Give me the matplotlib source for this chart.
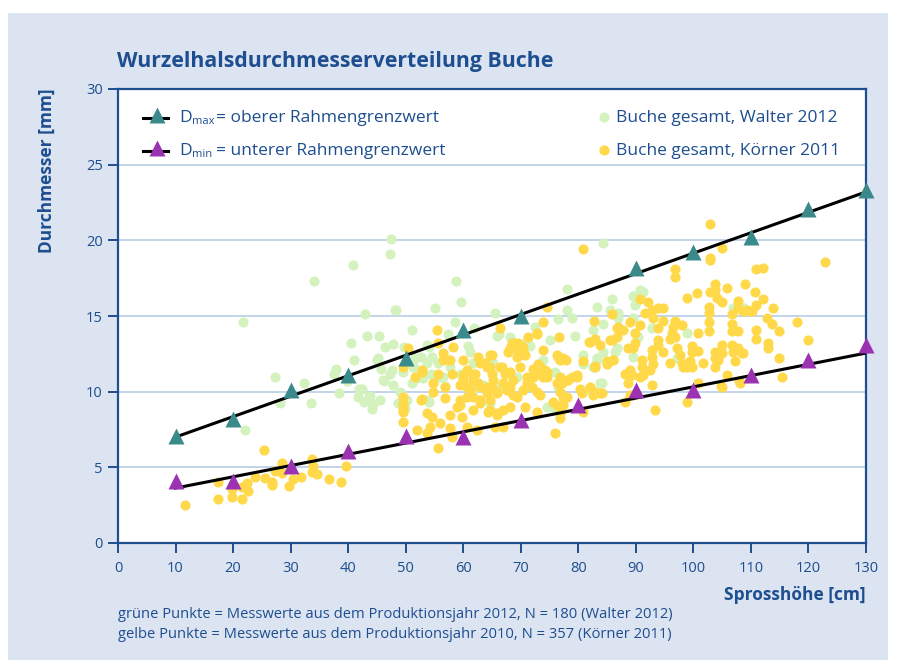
import matplotlib
matplotlib.use("Agg")
import matplotlib.pyplot as plt
from matplotlib.lines import Line2D
from matplotlib.patches import Rectangle
import numpy as np

# ---------------- data ----------------
title = "Wurzelhalsdurchmesserverteilung Buche"
xlabel = "Sprosshöhe [cm]"
ylabel = "Durchmesser [mm]"
x_ticks = list(range(0, 131, 10))
y_ticks = list(range(0, 31, 5))

dmax_x = [10, 20, 30, 40, 50, 60, 70, 90, 100, 110, 120, 130]
dmax_y = [7.1, 8.2, 10.1, 11.1, 12.2, 14.1, 15.0, 18.2, 19.2, 20.2, 22.1, 23.3]
dmin_x = [10, 20, 30, 40, 50, 60, 70, 80, 90, 100, 110, 120, 130]
dmin_y = [4.1, 4.1, 5.1, 6.1, 7.1, 7.0, 8.1, 9.1, 10.1, 10.1, 11.1, 12.1, 13.1]
dmax_line_x = [10, 130]
dmax_line_y = [7.0, 23.2]
dmin_line_x = [10, 130]
dmin_line_y = [3.63, 12.55]

walter_points = [
    (21.7, 14.6), (22.0, 7.5), (27.3, 11.0), (28.2, 9.25), (32.3, 10.6), (33.5, 9.25), (34.1, 17.3), (40.8, 18.4),
    (37.9, 11.5), (37.5, 11.2), (39.8, 10.7), (38.4, 9.9), (40.5, 13.2), (41.0, 12.1), (41.9, 10.2), (41.7, 9.65),
    (42.9, 15.1), (43.3, 13.7), (43.6, 9.65), (45.4, 13.7), (46.4, 12.95), (47.8, 13.15), (48.3, 15.4), (51.1, 14.1),
    (47.4, 20.1), (47.3, 19.1), (45.2, 12.2), (45.7, 11.5), (47.3, 11.2), (46.2, 10.7), (47.8, 10.45), (43.8, 9.7),
    (45.5, 9.45), (44.3, 9.2), (48.7, 9.25), (42.2, 10.2), (42.7, 9.3), (44.1, 8.85), (49.9, 8.9),
    (55.1, 15.5), (58.7, 17.3), (59.6, 15.9), (58.6, 14.6), (61.9, 14.2), (57.4, 13.8), (54.1, 12.95), (54.6, 12.3),
    (60.8, 13.0), (61.2, 12.6), (61.7, 11.9), (65.5, 15.2), (66.2, 13.8), (68.1, 13.6), (70.9, 13.0),
    (78.0, 16.8), (78.0, 15.4), (78.9, 14.9), (76.5, 14.8), (83.2, 15.6), (84.3, 19.8), (84.3, 14.5), (75.1, 13.4),
    (79.4, 13.7), (80.8, 12.4), (82.6, 14.1), (82.6, 11.6), (83.2, 12.2), (83.8, 10.6),
    (51.6, 12.2), (51.4, 11.6), (51.1, 10.6), (49.7, 12.95), (52.7, 12.3), (53.7, 11.9), (54.4, 11.2), (56.0, 11.0),
    (57.7, 11.6), (59.4, 11.2), (60.0, 11.0), (56.8, 10.4), (61.7, 10.2), (63.4, 10.45), (65.2, 11.9), (67.6, 10.1),
    (50.2, 9.45), (54.1, 9.3), (52.0, 10.9), (49.5, 11.3), (74.6, 9.0), (76.3, 8.9),
    (85.9, 16.1), (90.7, 16.7), (89.8, 15.7), (85.5, 15.4), (89.5, 16.3), (91.2, 16.6), (106.9, 15.5), (108.8, 15.5),
    (98.9, 13.9), (86.9, 14.9), (89.5, 14.9), (90.2, 13.7), (92.8, 14.2), (84.3, 12.6), (86.4, 12.6), (89.5, 12.3),
    (84.1, 10.6), (97.1, 12.2), (86.9, 15.2), (90.4, 13.6), (86.7, 12.9),
    (72.5, 14.3), (65.9, 13.7), (71.1, 13.4), (71.6, 13.0), (64.7, 12.1), (73.9, 12.1), (83.2, 12.1), (75.9, 11.3),
    (80.8, 11.8), (82.0, 10.1), (76.5, 10.3), (71.6, 10.4), (75.4, 9.0), (69.3, 11.0), (66.0, 10.3), (64.7, 9.25),
    (48.1, 15.4), (53.7, 13.1), (55.6, 11.9), (51.3, 11.6), (53.0, 10.9), (56.5, 11.0), (61.7, 11.1), (49.0, 10.0),
    (53.9, 9.45), (52.8, 11.2), (45.0, 12.1), (47.6, 11.4), (46.1, 10.8), (42.4, 10.2),
]

koerner_points = [
    (11.6, 2.5), (17.4, 4.0), (17.4, 2.9), (19.8, 3.55), (19.8, 3.05), (21.5, 2.9), (21.5, 3.7), (22.4, 3.95),
    (22.6, 3.45), (23.8, 4.35), (25.4, 6.15), (25.6, 4.3), (26.8, 4.05), (26.8, 3.8), (27.3, 4.75), (28.5, 4.6),
    (28.5, 5.3), (29.7, 3.75), (30.4, 4.2), (31.8, 4.35), (33.7, 5.55), (33.9, 5.1), (33.7, 4.7), (34.6, 4.55),
    (36.7, 4.2), (38.8, 4.0), (39.6, 5.1),
    (49.5, 8.0), (49.5, 8.65), (49.5, 9.1), (49.5, 9.65), (49.5, 8.8), (49.5, 9.25), (49.5, 11.6), (50.4, 12.9),
    (55.6, 13.2), (56.5, 12.55), (58.2, 12.95), (56.5, 12.1), (57.7, 12.1), (60.0, 12.1), (52.8, 11.4), (51.6, 11.0),
    (55.6, 11.2), (54.7, 10.6), (56.8, 10.3), (54.7, 10.0), (52.8, 9.5), (56.8, 9.6), (53.7, 8.6), (54.6, 8.35),
    (57.7, 8.45), (59.8, 8.35), (52.0, 7.5), (54.2, 7.65), (56.0, 7.9), (57.7, 7.6), (53.7, 7.25), (55.6, 6.3),
    (58.0, 7.0), (59.4, 9.45), (58.9, 9.0), (60.7, 10.3), (60.0, 10.8), (61.2, 10.1), (60.7, 11.4), (62.0, 11.2),
    (62.6, 12.3), (62.9, 11.9), (63.8, 11.9), (64.7, 11.6), (61.7, 10.8), (62.9, 10.3), (64.1, 9.9), (65.2, 10.2),
    (61.7, 9.65), (62.9, 9.25), (64.7, 8.8), (65.9, 8.6), (61.7, 8.8), (60.7, 7.65), (62.4, 7.45), (55.4, 14.1),
    (57.5, 12.1), (58.0, 11.2), (59.4, 10.45), (60.0, 11.1), (61.7, 11.2), (64.7, 12.4), (64.1, 11.6), (65.0, 11.2),
    (66.4, 11.6), (68.1, 11.3), (62.6, 10.6), (64.1, 10.3), (65.9, 9.9), (67.6, 10.1), (60.7, 9.65), (62.9, 9.45),
    (64.7, 9.45), (59.4, 9.1), (64.3, 8.65), (68.1, 9.0), (69.3, 9.65), (71.1, 10.6), (72.1, 11.0), (74.6, 11.0),
    (76.3, 10.6), (76.8, 10.0), (78.0, 10.8), (79.8, 11.0), (82.0, 10.3), (83.8, 9.9), (82.6, 9.8), (75.6, 9.3),
    (77.3, 9.1), (76.8, 8.6), (52.7, 9.45),
    (74.6, 15.6), (73.9, 14.6), (82.7, 14.7), (85.9, 15.1), (66.4, 14.2), (72.8, 13.9), (71.3, 13.6), (76.6, 13.6),
    (82.0, 13.3), (83.8, 13.1), (85.5, 13.4), (68.5, 13.2), (69.5, 13.2), (67.8, 12.6), (69.0, 12.9), (70.4, 12.9),
    (70.7, 12.4), (73.9, 12.75), (69.3, 12.3), (76.3, 12.4), (76.8, 12.1), (77.9, 12.1), (80.8, 12.0), (82.9, 11.7),
    (85.0, 12.0), (86.0, 12.1), (65.0, 12.4), (66.7, 11.6), (67.3, 11.2), (69.9, 11.6), (72.1, 11.5), (73.3, 11.6),
    (74.2, 11.4), (72.8, 11.2), (73.9, 11.0), (71.1, 11.0), (68.6, 10.8), (66.9, 10.6), (65.2, 10.8), (65.9, 10.0),
    (68.1, 10.3), (68.6, 9.8), (70.4, 10.1), (71.9, 10.3), (72.8, 10.0), (73.3, 9.8), (76.8, 11.0), (77.2, 10.6),
    (78.2, 10.8), (78.9, 11.0), (79.8, 11.1), (80.3, 10.2), (82.9, 10.0), (84.1, 9.9), (77.3, 9.65), (76.3, 9.1),
    (76.8, 8.25), (75.9, 7.3), (72.8, 8.65), (70.7, 9.0), (66.9, 8.8), (65.9, 8.45), (65.5, 7.65), (66.9, 7.65),
    (80.8, 8.65), (80.6, 9.9), (78.0, 9.65),
    (80.8, 19.4), (72.8, 13.8), (68.8, 13.2), (70.2, 13.0), (68.1, 12.9), (70.4, 12.55), (73.0, 11.8), (73.7, 11.4),
    (74.6, 11.3), (76.5, 12.3), (77.3, 12.2), (82.9, 11.6), (81.9, 13.3), (82.9, 13.5), (86.9, 14.3), (86.7, 13.6),
    (52.8, 11.3),
    (96.8, 18.1), (96.8, 17.6), (102.9, 18.7), (98.9, 16.2), (100.6, 16.5), (102.9, 16.6), (103.8, 17.1), (103.8, 16.7),
    (105.8, 16.85), (109.0, 17.1), (110.7, 16.6), (104.1, 16.2), (105.0, 15.9), (102.7, 15.6), (107.7, 16.0), (107.7, 15.5),
    (110.9, 15.7), (102.7, 15.2), (102.7, 14.6), (102.7, 14.0), (106.7, 15.1), (106.7, 14.5), (106.7, 14.0), (107.7, 14.0),
    (109.3, 15.4), (110.2, 15.3), (110.9, 14.1), (110.9, 13.5), (90.7, 16.1), (92.1, 15.9), (91.6, 15.2), (92.8, 15.4),
    (93.8, 15.5), (94.7, 15.5), (93.0, 14.9), (94.7, 14.7), (96.8, 14.7), (98.0, 14.4), (96.5, 14.3), (89.0, 14.6),
    (90.7, 14.4), (86.7, 14.2), (87.8, 14.1), (89.8, 13.9), (93.8, 14.2), (96.3, 13.9), (96.8, 13.6), (95.9, 13.5),
    (93.8, 13.4), (93.8, 13.1), (100.8, 13.9), (97.1, 12.9), (94.7, 12.6), (92.8, 12.75), (89.8, 13.2), (89.5, 12.9),
    (88.6, 12.9), (85.9, 13.4), (99.8, 13.0), (99.8, 12.6), (100.8, 12.7), (97.7, 12.4), (95.9, 11.9), (98.0, 11.9),
    (99.4, 12.0), (99.8, 11.6), (101.7, 11.9), (103.8, 12.6), (103.8, 12.2), (103.8, 11.6), (105.0, 13.1), (105.0, 12.55),
    (104.3, 12.1), (106.7, 13.1), (106.9, 12.6), (107.7, 12.9), (108.4, 12.55), (107.2, 12.0), (105.8, 11.1), (92.8, 12.3),
    (91.1, 12.1), (93.0, 11.8), (91.1, 11.6), (92.5, 11.4), (91.2, 11.1), (90.7, 11.0), (89.0, 11.4), (88.1, 11.2),
    (89.3, 11.1), (88.6, 10.6), (86.0, 12.1), (98.9, 11.6), (98.2, 11.6), (92.8, 10.45), (100.8, 10.6), (98.9, 9.3),
    (93.3, 8.8), (105.0, 10.3), (108.1, 10.6), (88.1, 9.3), (89.0, 9.8), (89.5, 9.8),
    (122.9, 18.6), (110.9, 18.1), (112.1, 18.2), (112.1, 16.1), (113.8, 15.5), (109.8, 15.3), (108.6, 15.3), (112.8, 14.9),
    (113.7, 14.5), (114.9, 14.0), (118.0, 14.6), (113.0, 13.2), (113.0, 12.9), (119.9, 13.4), (108.6, 12.55), (114.9, 12.2),
    (115.4, 11.0), (102.9, 21.1), (105.0, 19.5), (102.9, 18.8), (107.9, 10.7), (104.8, 10.4), (85.0, 11.8),
]

legend_dmax = ("max", "= oberer Rahmengrenzwert")
legend_dmin = ("min", "= unterer Rahmengrenzwert")
legend_walter = "Buche gesamt, Walter 2012"
legend_koerner = "Buche gesamt, Körner 2011"
footnotes = [
    "grüne Punkte = Messwerte aus dem Produktionsjahr 2012, N = 180 (Walter 2012)",
    "gelbe Punkte = Messwerte aus dem Produktionsjahr 2010, N = 357 (Körner 2011)",
]

# ---------------- style ----------------
BG = "#dce3f1"
NAVY = "#1d4e8f"
GRID = "#b9cde6"
GREEN = "#d3f2bd"
YELLOW = "#ffd94a"
TEAL = "#3b8a8b"
PURPLE = "#9b32b2"
MAIN_FONT = ["Open Sans", "DejaVu Sans"]
NARROW_FONT = ["Open Sans", "DejaVu Sans"]

W, H = 897, 660
fig = plt.figure(figsize=(W / 100, H / 100), dpi=100)
fig.patch.set_facecolor("white")
fig.patches.append(Rectangle((8 / W, 0), (888 - 8) / W, (H - 13) / H, transform=fig.transFigure,
                             facecolor=BG, edgecolor="none", zorder=-10))

ax = fig.add_axes([118 / W, 1 - 543 / H, (866 - 118) / W, (543 - 89) / H])
ax.set_facecolor("white")
ax.set_xlim(0, 130)
ax.set_ylim(0, 30)

for s in ["left", "bottom", "right", "top"]:
    ax.spines[s].set_color(NAVY)
    ax.spines[s].set_linewidth(1.6)

ax.set_xticks(x_ticks)
ax.set_yticks(y_ticks)
ax.tick_params(axis="both", direction="out", length=7, width=1.4, color=NAVY,
               labelcolor=NAVY, labelsize=10.5)
ax.tick_params(axis="x", pad=6)
ax.tick_params(axis="y", pad=4)
for lab in ax.get_xticklabels() + ax.get_yticklabels():
    lab.set_family(NARROW_FONT)

for yv in y_ticks[1:-1]:
    ax.axhline(yv, color=GRID, lw=1.2, zorder=0.5)

gx = [p[0] for p in walter_points]
gy = [p[1] for p in walter_points]
kx = [p[0] for p in koerner_points]
ky = [p[1] for p in koerner_points]
ax.plot(gx, gy, "o", ms=7.3, color=GREEN, mec="none", zorder=2)
ax.plot(kx, ky, "o", ms=7.3, color=YELLOW, mec="none", zorder=3)

ax.plot(dmax_line_x, dmax_line_y, color="black", lw=2.2, zorder=4)
ax.plot(dmin_line_x, dmin_line_y, color="black", lw=2.2, zorder=4)
ax.plot(dmax_x, dmax_y, "^", ms=11, color=TEAL, mec="none", zorder=5, clip_on=False)
ax.plot(dmin_x, dmin_y, "^", ms=11, color=PURPLE, mec="none", zorder=5, clip_on=False)

# ---------------- legend (manual) ----------------
def fx(px):
    return (px - 118) / 748

def fy(py):
    return (543 - py) / 454

rows = [(117, TEAL, legend_dmax), (150, PURPLE, legend_dmin)]
for py, col, (sub, txt) in rows:
    ax.add_line(Line2D([fx(143), fx(168)], [fy(py + 1), fy(py + 1)], transform=ax.transAxes,
                       color="black", lw=2.2, zorder=6, clip_on=False))
    ax.add_line(Line2D([fx(157)], [fy(py - 2)], transform=ax.transAxes, marker="^", ms=11,
                       color=col, mec="none", zorder=7, clip_on=False))
    ax.text(fx(179), fy(py + 5), "D", transform=ax.transAxes, ha="left", va="baseline",
            fontsize=12.5, color=NAVY, family=MAIN_FONT)
    ax.text(fx(192), fy(py + 7), sub, transform=ax.transAxes, ha="left", va="baseline",
            fontsize=8, color=NAVY, family=MAIN_FONT)
    ax.text(fx(216), fy(py + 5), txt, transform=ax.transAxes, ha="left", va="baseline",
            fontsize=12.5, color=NAVY, family=MAIN_FONT)

for py, col, txt in [(117, GREEN, legend_walter), (150, YELLOW, legend_koerner)]:
    ax.add_line(Line2D([fx(604)], [fy(py)], transform=ax.transAxes, marker="o", ms=7.3,
                       color=col, mec="none", zorder=7, clip_on=False))
    ax.text(fx(616), fy(py + 5), txt, transform=ax.transAxes, ha="left", va="baseline",
            fontsize=12.5, color=NAVY, family=MAIN_FONT)

# ---------------- texts ----------------
fig.text(117 / W, 1 - 62 / H, title, ha="left", va="center", fontsize=15.3,
         fontweight="bold", color=NAVY, family=MAIN_FONT)
fig.text(47 / W, 1 - 88 / H, ylabel, ha="center", va="top", rotation=90, fontsize=12.5,
         fontweight="bold", color=NAVY, family=NARROW_FONT)
fig.text(866 / W, 1 - 595 / H, xlabel, ha="right", va="center", fontsize=12.5,
         fontweight="bold", color=NAVY, family=NARROW_FONT)
for i, t in enumerate(footnotes):
    fig.text(118 / W, 1 - (615 + 19 * i) / H, t, ha="left", va="center", fontsize=10.6,
             color=NAVY, family=NARROW_FONT)

fig.savefig("out.png", dpi=100, facecolor=fig.get_facecolor())
